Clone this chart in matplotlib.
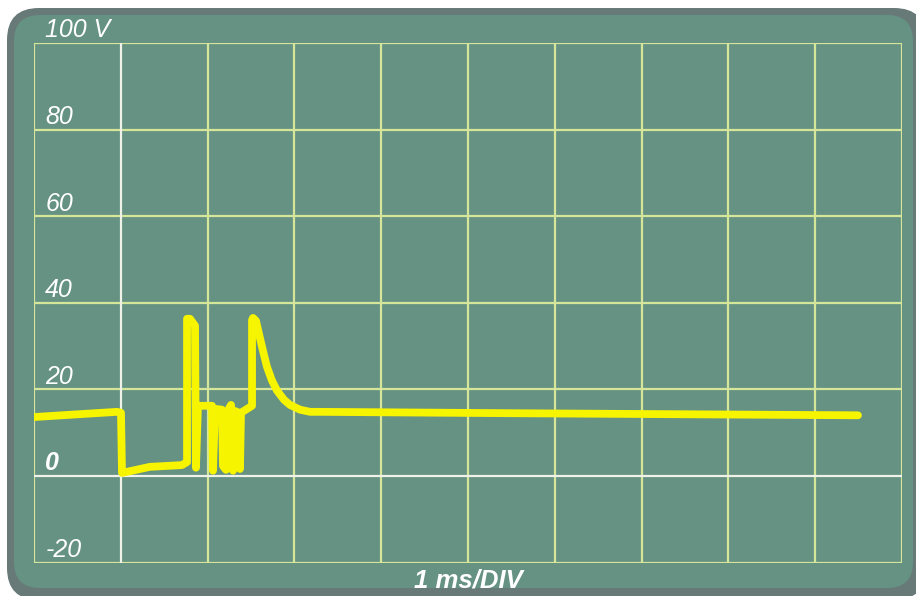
import matplotlib
matplotlib.use("Agg")
import matplotlib.pyplot as plt
from matplotlib.patches import FancyBboxPatch

# Oscilloscope trace: time in ms (1 ms per division), voltage in V
time_ms = [0.0, 0.956, 1.002, 1.014, 1.336, 1.705, 1.763, 1.763, 1.797, 1.855,
           1.866, 1.889, 2.051, 2.062, 2.085, 2.166, 2.177, 2.212, 2.247, 2.270,
           2.293, 2.316, 2.362, 2.373, 2.385, 2.512, 2.512, 2.523, 2.558, 2.592,
           2.638, 2.684, 2.742, 2.800, 2.880, 2.949, 3.065, 3.180, 3.295, 5.369,
           9.493]
volts = [13.6, 14.8, 14.6, 0.7, 2.1, 2.5, 3.2, 36.3, 36.3, 34.7,
         1.9, 16.2, 16.2, 1.2, 15.5, 15.3, 2.3, 1.4, 15.6, 16.4,
         1.2, 15.0, 14.6, 1.6, 14.6, 16.2, 36.0, 36.5, 35.8, 32.8,
         28.9, 25.2, 22.0, 19.7, 17.6, 16.4, 15.3, 14.8, 14.8, 14.5,
         14.0]

y_ticks = [100, 80, 60, 40, 20, 0, -20]
y_labels = ["100 V", "80", "60", "40", "20", "0", "-20"]
x_ticks = list(range(0, 11))
x_label = "1 ms/DIV"

W, H = 916, 596
fig = plt.figure(figsize=(W / 100, H / 100), dpi=100, facecolor="white")

# Rounded screen bezel drawn in pixel units
bg = fig.add_axes([0, 0, 1, 1], zorder=0)
bg.set_xlim(0, W)
bg.set_ylim(H, 0)
bg.axis("off")
bg.add_patch(FancyBboxPatch((7 + 32, 8 + 32), 916 - 7 + 10 - 64, 600 - 8 - 64,
                            boxstyle="round,pad=32", fc="#687a78", ec="none"))
bg.add_patch(FancyBboxPatch((14 + 26, 15 + 26), 913 - 14 - 52, 588 - 15 - 52,
                            boxstyle="round,pad=26", fc="#659282", ec="none"))

ax = fig.add_axes([34 / W, (H - 562.5) / H, 868 / W, 519.5 / H], zorder=1)
ax.set_xlim(0, 10)
ax.set_ylim(-20, 100)
ax.patch.set_alpha(0)
for s in ax.spines.values():
    s.set_visible(False)
ax.set_xticks([])
ax.set_yticks([])

grid_col = "#d5e69a"
white_col = "#f0f2ea"
for x in x_ticks:
    ax.axvline(x, color=white_col if x == 1 else grid_col, lw=1.6,
               zorder=2 if x == 1 else 1)
for y in y_ticks:
    ax.axhline(y, color=white_col if y == 0 else grid_col, lw=1.6,
               zorder=2 if y == 0 else 1)

ax.plot(time_ms, volts, color="#f7f400", lw=5.6, solid_capstyle="round",
        solid_joinstyle="round", zorder=3)

for y, lab in zip(y_ticks, y_labels):
    ax.text(0.13, y + 1.3, lab, color="white", fontsize=18, style="italic",
            fontweight="bold" if lab == "0" else "normal",
            family="Liberation Sans", ha="left", va="baseline", zorder=4)

fig.text(468 / W, (H - 587) / H, x_label, color="white", fontsize=18.5,
         style="italic", fontweight="bold", family="Liberation Sans",
         ha="center", va="baseline")

fig.savefig("out.png", dpi=100, facecolor="white")
